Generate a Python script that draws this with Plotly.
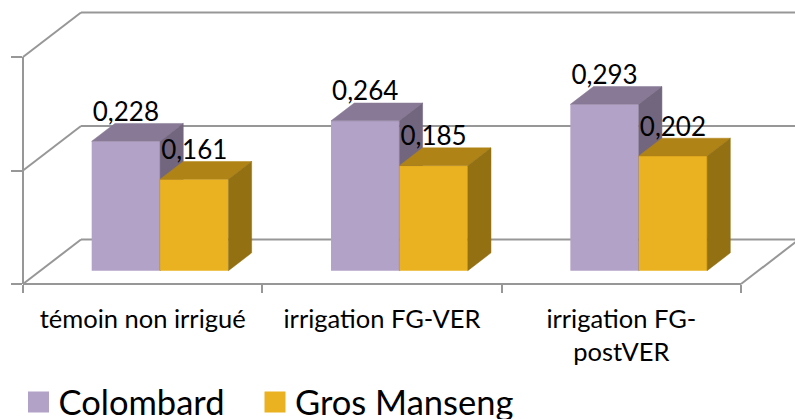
import plotly.graph_objects as go

categories = ["témoin non irrigué", "irrigation FG-VER", "irrigation FG-<br>postVER"]
colombard = [0.228, 0.264, 0.293]
gros_manseng = [0.161, 0.185, 0.202]
value_ticks = [0, 0.2, 0.4]

FONT = "Lato"
GRID = "#979797"
W, H = 795, 419
AX_L, AX_R, AX_B, AX_T = 23, 741, 284, 57   # visible axis box, in pixels
CAT_PX = (AX_R - AX_L) / len(categories)
VAL_PX = (AX_B - AX_T) / value_ticks[-1]
BAR_W = 1 / 3.5
DX = 58 / CAT_PX      # oblique shift of full depth, in category units
DY = 44.5 / VAL_PX    # oblique shift of full depth, in value units
D0, D1 = 0.3, 0.7     # front and back of the bars within the depth
right = len(categories) - 0.5
left = -0.5


def proj(x, d, v):
    return x + d * DX, v + d * DY


def poly(points, color, z):
    xs, ys = zip(*points)
    return go.Scatter(x=list(xs) + [xs[0]], y=list(ys) + [ys[0]], mode="lines", fill="toself",
                      fillcolor=color, line=dict(color=color, width=0.5), hoverinfo="skip",
                      showlegend=False, zorder=z)


fig = go.Figure()


def grid(p, q):
    fig.add_trace(go.Scatter(x=[p[0], q[0]], y=[p[1], q[1]], mode="lines", line=dict(color=GRID, width=2),
                             hoverinfo="skip", showlegend=False, zorder=0))


for v in value_ticks:
    grid(proj(left, 0, v), proj(left, 1, v))
    grid(proj(left, 1, v), proj(right, 1, v))
grid(proj(right, 0, 0), proj(right, 1, 0))
grid(proj(left, 0, 0), proj(right, 0, 0))
grid(proj(left, 0, value_ticks[0]), proj(left, 0, value_ticks[-1]))

series = [
    ("Colombard", colombard, -BAR_W / 2, "#B3A2C7", "#887A96", "#72667F", 1, "legend", 18.5),
    ("Gros Manseng", gros_manseng, BAR_W / 2, "#EAB220", "#B08316", "#937012", 2, "legend2", 255),
]

for name, vals, off, front, top, side, z, leg, _ in series:
    xs = [i + off + D0 * DX for i in range(len(vals))]
    fig.add_trace(go.Bar(x=xs, y=vals, base=[D0 * DY] * len(vals), width=BAR_W,
                         marker=dict(color=front, line=dict(width=0)),
                         showlegend=False, hoverinfo="skip", zorder=z))
    for i, v in enumerate(vals):
        x0, x1 = i + off - BAR_W / 2, i + off + BAR_W / 2
        fig.add_trace(poly([proj(x0, D0, v), proj(x1, D0, v), proj(x1, D1, v), proj(x0, D1, v)], top, z))
        fig.add_trace(poly([proj(x1, D0, 0), proj(x1, D1, 0), proj(x1, D1, v), proj(x1, D0, v)], side, z))
    fig.add_trace(go.Scatter(x=[None], y=[None], name=name, mode="markers", legend=leg,
                             marker=dict(symbol="square", size=16, color=front, line=dict(color=front, width=5))))

for name, vals, off, *_ in series:
    fig.add_trace(go.Scatter(x=[i + off + D0 * DX for i in range(len(vals))],
                             y=[v + D0 * DY + 27 / VAL_PX for v in vals],
                             mode="text", text=[f"{v:.3f}".replace(".", ",") for v in vals],
                             textposition="middle center", textfont=dict(family=FONT, size=26, color="#000000"),
                             showlegend=False, hoverinfo="skip", zorder=3))

# trace that brings the visible axes into being
fig.add_trace(go.Scatter(x=[None], y=[None], xaxis="x2", yaxis="y2", showlegend=False, hoverinfo="skip"))

legend_style = dict(y=(H - 402) / H, xanchor="left", yanchor="middle", font=dict(family=FONT, size=34.5),
                    bgcolor="rgba(0,0,0,0)", borderwidth=0, itemwidth=30)

fig.update_layout(
    width=W, height=H, margin=dict(l=0, r=0, t=0, b=0, autoexpand=False),
    paper_bgcolor="white", plot_bgcolor="rgba(0,0,0,0)", barmode="overlay",
    font=dict(family=FONT, color="#000000"),
    xaxis=dict(range=[left - AX_L / CAT_PX, left + (W - AX_L) / CAT_PX], visible=False, domain=[0, 1]),
    yaxis=dict(range=[-(H - AX_B) / VAL_PX, AX_B / VAL_PX], visible=False, domain=[0, 1]),
    xaxis2=dict(domain=[AX_L / W, AX_R / W], anchor="y2", range=[left, right],
                tickvals=list(range(len(categories))), ticktext=categories, ticks="",
                showgrid=False, zeroline=False, showline=False,
                tickfont=dict(family=FONT, size=25.5), ticklabelstandoff=17,
                minor=dict(tickvals=[left + i for i in range(len(categories) + 1)], ticks="outside", ticklen=8,
                           tickcolor=GRID, tickwidth=2, showgrid=False)),
    yaxis2=dict(domain=[(H - AX_B) / H, (H - AX_T) / H], anchor="x2", range=[0, value_ticks[-1]],
                tickvals=value_ticks, showticklabels=False, ticks="outside", ticklen=11,
                tickcolor=GRID, tickwidth=2, showgrid=False, zeroline=False, showline=False),
    legend=dict(x=series[0][8] / W, **legend_style),
    legend2=dict(x=series[1][8] / W, **legend_style),
)

fig.write_html("out.html", config=dict(displayModeBar=False),
               post_script="document.body.style.margin='0';document.documentElement.style.overflow='hidden';")
